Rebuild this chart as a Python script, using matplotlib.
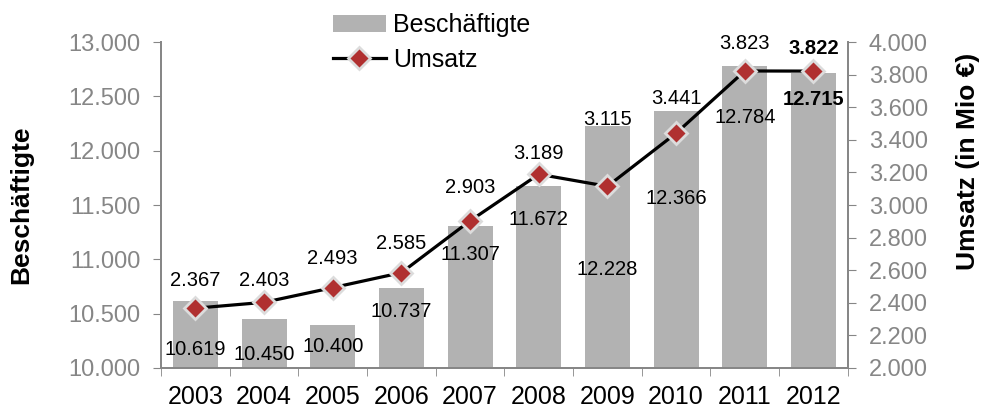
import numpy as np
import matplotlib.pyplot as plt
from matplotlib.ticker import FuncFormatter, FixedLocator

plt.rcParams['font.family'] = ['Liberation Sans', 'DejaVu Sans']

years = ['2003', '2004', '2005', '2006', '2007', '2008', '2009', '2010', '2011', '2012']
beschaeftigte = [10619, 10450, 10400, 10737, 11307, 11672, 12228, 12366, 12784, 12715]
umsatz = [2367, 2403, 2493, 2585, 2903, 3189, 3115, 3441, 3823, 3822]

# where the bar labels sit (left-axis units), and how far umsatz labels sit above markers (pt)
bar_label_y = [10166, 10120, 10194, 10517, 11043, 11366, 10905, 11560, 12308, 12474]
line_label_off = [20, 16, 21, 21, 24, 15, 48, 25, 20, 16]

def de(v, pos=None):
    return f'{v:,.0f}'.replace(',', '.')

fig = plt.figure(figsize=(9.84, 4.12), dpi=100)
ax = fig.add_axes([0.1636, 0.1068, 0.698, 0.791])
ax2 = ax.twinx()

x = np.arange(len(years))
grey = '#868686'
ax.bar(x, beschaeftigte, width=0.655, color='#B2B2B2', label='Beschäftigte', zorder=2)
ax.set_ylim(10000, 13000)
ax.set_xlim(-0.5, len(years) - 0.5)
ax.yaxis.set_major_formatter(FuncFormatter(de))
ax.set_yticks(np.arange(10000, 13001, 500))
ax.set_xticks(x)
ax.set_xticklabels(years)
ax.xaxis.set_minor_locator(FixedLocator(np.arange(-0.5, len(years), 1)))
ax.tick_params(axis='x', which='major', length=0, labelsize=18, pad=12)
ax.tick_params(axis='x', which='minor', length=6, color=grey)
ax.tick_params(axis='y', length=6, color=grey, labelcolor=grey, labelsize=17, pad=9)
ax.set_ylabel('Beschäftigte', fontsize=19, fontweight='bold')
ax.yaxis.set_label_coords(-0.186, 0.5)

ax2.plot(x, umsatz, color='black', lw=2.3, marker='D', markersize=11,
         markerfacecolor='#B03030', markeredgecolor='#DCDCDC', markeredgewidth=2,
         label='Umsatz', zorder=3)
ax2.set_ylim(2000, 4000)
ax2.set_yticks(np.arange(2000, 4001, 200))
ax2.yaxis.set_major_formatter(FuncFormatter(de))
ax2.tick_params(axis='y', length=6, color=grey, labelcolor=grey, labelsize=17, pad=9)
ax2.set_ylabel('Umsatz (in Mio €)', fontsize=19, fontweight='bold')
ax2.yaxis.set_label_coords(1.158, 0.635)

for a in (ax, ax2):
    a.spines['top'].set_visible(False)
    for s in ('left', 'right', 'bottom'):
        a.spines[s].set_color(grey)
        a.spines[s].set_linewidth(1.3)

for i in range(len(years)):
    bold = 'bold' if i == len(years) - 1 else 'normal'
    ax.text(x[i], bar_label_y[i], de(beschaeftigte[i]), ha='center', va='center',
            fontsize=14.5, fontweight=bold, zorder=5)
    ax2.annotate(de(umsatz[i]), (x[i], umsatz[i]), xytext=(0, line_label_off[i]),
                 textcoords='offset points', ha='center', va='center',
                 fontsize=14.5, fontweight=bold)

h1, l1 = ax.get_legend_handles_labels()
h2, l2 = ax2.get_legend_handles_labels()
fig.legend(h1 + h2, l1 + l2, loc='upper left', bbox_to_anchor=(333 / 984, 0.968),
           frameon=False, fontsize=18, handlelength=2.1, handletextpad=0.3,
           labelspacing=0.42, borderpad=0, borderaxespad=0)

fig.savefig('out.png', dpi=100)
